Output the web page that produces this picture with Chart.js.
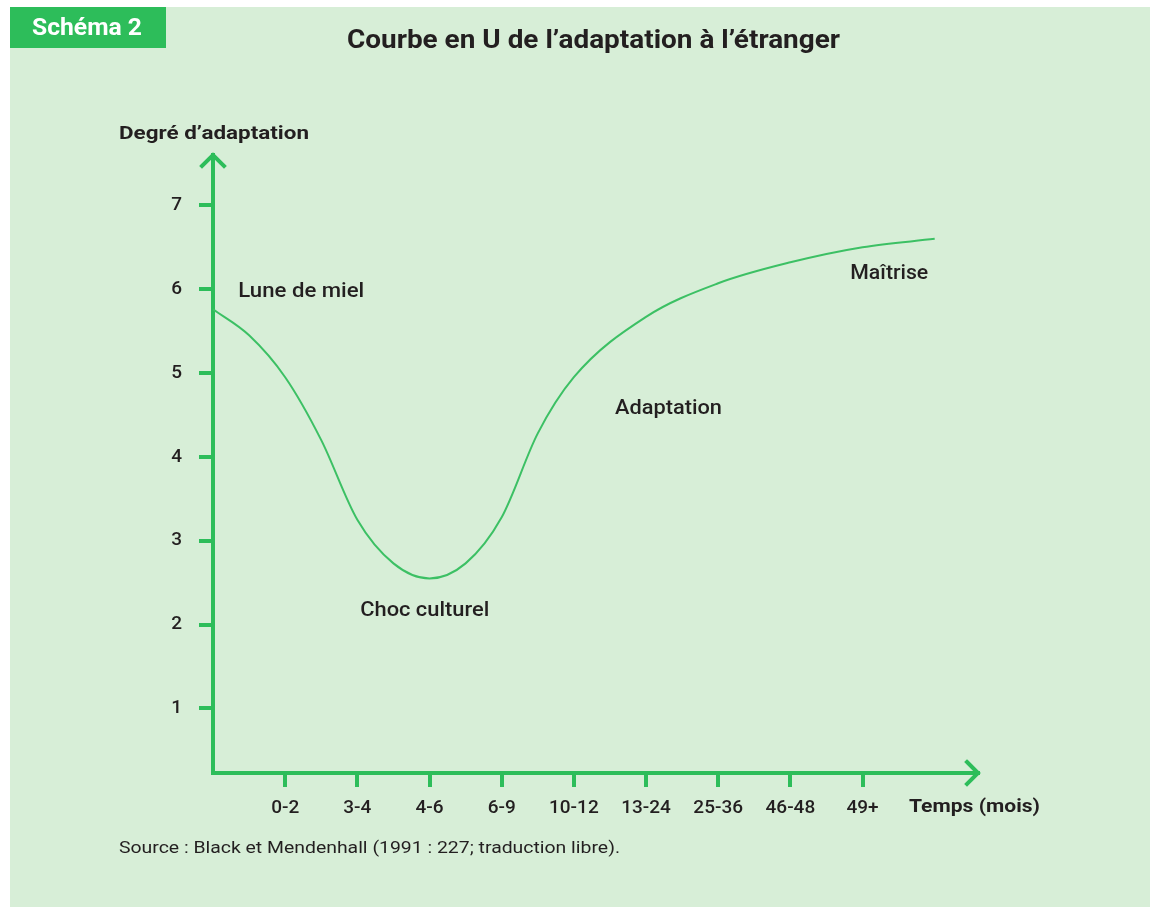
<!DOCTYPE html>
<html>
<head>
<meta charset="utf-8">
<script src="https://cdn.jsdelivr.net/npm/chart.js@4/dist/chart.umd.min.js"></script>
<style>
  body { margin: 0; background: #ffffff; }
  #wrap { position: relative; width: 1150px; height: 907px; }
</style>
</head>
<body>
<div id="wrap"><canvas id="chart" width="1150" height="907"></canvas></div>
<script>
// Tick labels of the time axis (months)
const timeLabels = ['0-2', '3-4', '4-6', '6-9', '10-12', '13-24', '25-36', '46-48', '49+'];
// Tick values of the adaptation axis
const levelTicks = [1, 2, 3, 4, 5, 6, 7];

// Curve (x = position along the time axis, -1 = origin)
const curveX = [-1, -0.5, 0, 0.5, 1, 1.5, 2, 2.5, 3, 3.5, 4, 5, 6, 7, 8, 9];
const curveY = [5.76, 5.45, 4.95, 4.2, 3.25, 2.73, 2.55, 2.73, 3.28, 4.28, 4.95, 5.67, 6.07, 6.32, 6.5, 6.6];

// Stage names and where they sit on the chart (value coordinates)
const stageNames = ['Lune de miel', 'Choc culturel', 'Adaptation', 'Maîtrise'];
const stageX = [-0.65, 1.04, 4.57, 7.83];
const stageY = [5.97, 2.16, 4.57, 6.18];

const GREEN = '#2dbd5a';
const INK = '#231f20';
const PANEL = '#d7eed7';

const points = curveX.map((x, i) => ({ x: x, y: curveY[i] }));

// draw text squeezed/stretched to a given width
function fitText(ctx, text, x, y, width) {
    const w = ctx.measureText(text).width;
    ctx.save();
    ctx.translate(x, y);
    ctx.scale(width / w, 1);
    ctx.fillText(text, 0, 0);
    ctx.restore();
}

// Panel background, badge, titles and arrows
const decor = {
    id: 'decor',
    beforeDraw(chart) {
        const ctx = chart.ctx;
        ctx.save();
        ctx.fillStyle = PANEL;
        ctx.fillRect(10, 7, 1140, 900);
        ctx.fillStyle = GREEN;
        ctx.fillRect(10, 7, 156, 41);
        ctx.textBaseline = 'middle';
        ctx.fillStyle = '#ffffff';
        ctx.font = 'bold 24px Roboto';
        fitText(ctx, 'Schéma 2', 32, 29, 110);
        ctx.fillStyle = INK;
        ctx.font = 'bold 26px Roboto';
        fitText(ctx, 'Courbe en U de l\u2019adaptation à l\u2019étranger', 347, 41, 493);
        ctx.font = 'bold 19px Roboto';
        fitText(ctx, 'Degré d\u2019adaptation', 119, 134, 190);
        fitText(ctx, 'Temps (mois)', 909, 807, 131);
        ctx.font = '16px Roboto';
        fitText(ctx, 'Source : Black et Mendenhall (1991 : 227; traduction libre).', 119, 849, 501);
        ctx.restore();
    },
    afterDraw(chart) {
        const ctx = chart.ctx;
        const a = chart.chartArea;
        const xs = chart.scales.x, ys = chart.scales.y;
        ctx.save();
        ctx.strokeStyle = GREEN;
        ctx.lineWidth = 4;
        ctx.lineCap = 'square';
        // arrow on the vertical axis
        ctx.beginPath();
        ctx.moveTo(a.left - 11, a.top + 11);
        ctx.lineTo(a.left, a.top);
        ctx.lineTo(a.left + 11, a.top + 11);
        ctx.stroke();
        // arrow on the horizontal axis
        ctx.beginPath();
        ctx.moveTo(a.right - 11, a.bottom - 11);
        ctx.lineTo(a.right, a.bottom);
        ctx.lineTo(a.right - 11, a.bottom + 11);
        ctx.stroke();
        // stage names
        const widths = [126, 129, 107, 78];
        ctx.fillStyle = INK;
        ctx.font = '500 20px Roboto';
        ctx.textBaseline = 'middle';
        stageNames.forEach((name, i) => {
            fitText(ctx, name, xs.getPixelForValue(stageX[i]), ys.getPixelForValue(stageY[i]), widths[i]);
        });
        ctx.restore();
    }
};

new Chart(document.getElementById('chart'), {
    type: 'line',
    data: {
        datasets: [{
            data: points,
            borderColor: '#3cc064',
            borderWidth: 2,
            pointRadius: 0,
            cubicInterpolationMode: 'monotone',
            fill: false
        }]
    },
    options: {
        responsive: false,
        animation: false,
        layout: { padding: { top: 155, right: 172, left: 0, bottom: 0 } },
        plugins: { legend: { display: false }, tooltip: { enabled: false } },
        scales: {
            x: {
                type: 'linear',
                min: -1,
                max: 9.6,
                afterBuildTicks: s => { s.ticks = timeLabels.map((_, i) => ({ value: i })); },
                afterFit: s => { s.height = 134; },
                border: { display: true, color: GREEN, width: 4 },
                grid: { drawOnChartArea: false, drawTicks: true, tickLength: 14, color: GREEN, lineWidth: 4 },
                ticks: {
                    color: INK,
                    font: { family: 'Roboto', size: 19, weight: '500' },
                    padding: 10,
                    maxRotation: 0,
                    callback: v => timeLabels[v]
                }
            },
            y: {
                type: 'linear',
                min: 0.23,
                max: 7.6,
                afterBuildTicks: s => { s.ticks = levelTicks.map(v => ({ value: v })); },
                afterFit: s => { s.width = 213; },
                border: { display: true, color: GREEN, width: 4 },
                grid: { drawOnChartArea: false, drawTicks: true, tickLength: 14, color: GREEN, lineWidth: 4 },
                ticks: {
                    color: INK,
                    font: { family: 'Roboto', size: 19, weight: '500' },
                    padding: 17
                }
            }
        }
    },
    plugins: [decor]
});
</script>
</body>
</html>
